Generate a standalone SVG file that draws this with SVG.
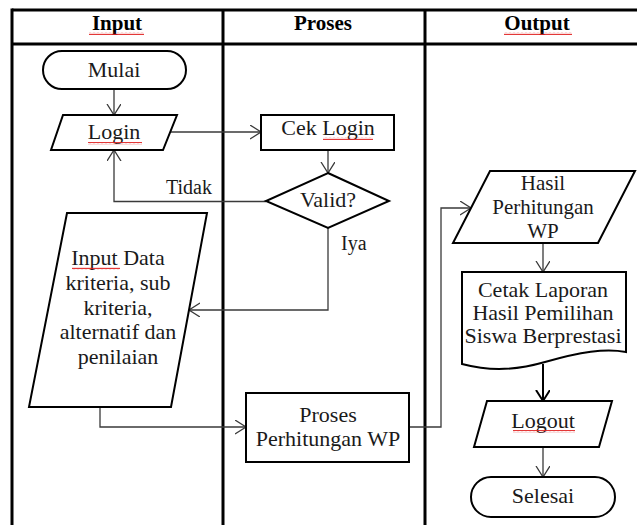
<svg xmlns="http://www.w3.org/2000/svg" width="637" height="525" viewBox="0 0 637 525">
<style>
.tbl{stroke:#000;stroke-width:3;fill:none}
.shape{fill:#fff;stroke:#000;stroke-width:2}
.conn{fill:none;stroke:#3a3a3a;stroke-width:1.3}
.t{font-family:"Liberation Serif","Times New Roman",serif;font-size:22px;fill:#1a1a1a;text-anchor:middle}
.s{font-size:21px}
.h{font-family:"Liberation Serif","Times New Roman",serif;font-size:21px;font-weight:bold;fill:#000;text-anchor:middle}
.lbl{font-family:"Liberation Serif","Times New Roman",serif;font-size:20px;fill:#1a1a1a}
.sq{fill:url(#wave)}
</style>
<defs>
<marker id="arr" markerUnits="userSpaceOnUse" markerWidth="14" markerHeight="16" refX="11" refY="7" orient="auto">
<path d="M0,0 L11,7 L0,14" fill="none" stroke="#3a3a3a" stroke-width="1.3"/>
</marker>
<marker id="arrB" markerUnits="userSpaceOnUse" markerWidth="14" markerHeight="16" refX="11" refY="7" orient="auto">
<path d="M0,0 L11,7 L0,14" fill="none" stroke="#000" stroke-width="2"/>
</marker>
<pattern id="wave" patternUnits="userSpaceOnUse" width="4" height="3">
<path d="M0,2.2 L1,0.8 L2,2.2 L3,0.8 L4,2.2" fill="none" stroke="#e02020" stroke-width="0.9"/>
</pattern>
</defs>
<rect width="637" height="525" fill="#fff"/>
<g id="table">
<line class="tbl" x1="12" y1="10" x2="637" y2="10"/>
<line class="tbl" x1="12" y1="44" x2="637" y2="44"/>
<line class="tbl" x1="12" y1="8.5" x2="12" y2="525"/>
<line class="tbl" x1="223" y1="10" x2="223" y2="525"/>
<line class="tbl" x1="425" y1="10" x2="425" y2="525"/>
<text class="h" x="117" y="30">Input</text>
<text class="h" x="323" y="30">Proses</text>
<text class="h" x="537" y="30">Output</text>
<rect class="sq" x="89" y="32" width="55" height="3"/>
<rect class="sq" x="504" y="32" width="68" height="3"/>
</g>
<g id="connectors">
<line class="conn" x1="114" y1="89" x2="114" y2="115" marker-end="url(#arr)"/>
<line class="conn" x1="170" y1="132" x2="261" y2="132" marker-end="url(#arr)"/>
<line class="conn" x1="328" y1="150" x2="328" y2="173" marker-end="url(#arr)"/>
<polyline class="conn" points="266,201.5 114,201.5 114,150" marker-end="url(#arr)"/>
<polyline class="conn" points="328,228 328,310 189,310" marker-end="url(#arr)"/>
<polyline class="conn" points="100,407 100,427 246,427" marker-end="url(#arr)"/>
<polyline class="conn" points="409,427 441,427 441,208 471,208" marker-end="url(#arr)"/>
<line class="conn" x1="543" y1="243" x2="543" y2="272" marker-end="url(#arr)"/>
<line x1="543" y1="364" x2="543" y2="401" stroke="#000" stroke-width="2" marker-end="url(#arrB)"/>
<line class="conn" x1="543" y1="447" x2="543" y2="477" marker-end="url(#arr)"/>
<text class="lbl" x="166" y="194">Tidak</text>
<text class="lbl" x="341" y="250">Iya</text>
</g>
<g id="mulai">
<rect class="shape" x="43" y="51" width="143" height="38" rx="19"/>
<text class="t" x="114" y="77">Mulai</text>
</g>
<g id="login">
<polygon class="shape" points="63,115 177,115 163,150 51,150"/>
<text class="t" x="114" y="139">Login</text>
<rect class="sq" x="88" y="142" width="54" height="3"/>
</g>
<g id="cek-login">
<rect class="shape" x="261" y="115" width="133" height="35"/>
<text class="t" x="328" y="135">Cek Login</text>
<rect class="sq" x="323" y="137" width="50" height="3"/>
</g>
<g id="valid">
<polygon class="shape" points="328,173 389,201 328,228 266,201"/>
<text class="t" x="328" y="207">Valid?</text>
</g>
<g id="input-data">
<polygon class="shape" points="67,213 207,213 171,407 29,407"/>
<text class="t" x="118" y="265">Input Data</text>
<text class="t" x="118" y="290">kriteria, sub</text>
<text class="t" x="118" y="315">kriteria,</text>
<text class="t" x="118" y="339">alternatif dan</text>
<text class="t" x="118" y="364">penilaian</text>
<rect class="sq" x="72" y="267" width="48" height="3"/>
</g>
<g id="proses-wp">
<rect class="shape" x="246" y="393" width="163" height="69"/>
<text class="t" x="328" y="422">Proses</text>
<text class="t" x="328" y="446">Perhitungan WP</text>
</g>
<g id="hasil-wp">
<polygon class="shape" points="490,171 635,171 598,243 453,243"/>
<text class="t s" x="543" y="190">Hasil</text>
<text class="t s" x="543" y="214">Perhitungan</text>
<text class="t s" x="543" y="238">WP</text>
</g>
<g id="cetak-laporan">
<path class="shape" d="M462,272 L626,272 L626,352 C605,348 580,352 545,362 C510,372 485,370 462,364 Z"/>
<text class="t" x="543" y="297">Cetak Laporan</text>
<text class="t" x="543" y="320">Hasil Pemilihan</text>
<text class="t" x="543" y="343">Siswa Berprestasi</text>
</g>
<g id="logout">
<polygon class="shape" points="487,401 612,401 599,447 474,447"/>
<text class="t" x="543" y="428">Logout</text>
<rect class="sq" x="513" y="430" width="62" height="3"/>
</g>
<g id="selesai">
<rect class="shape" x="471" y="477" width="144" height="40" rx="20"/>
<text class="t" x="543" y="503">Selesai</text>
</g>
</svg>
